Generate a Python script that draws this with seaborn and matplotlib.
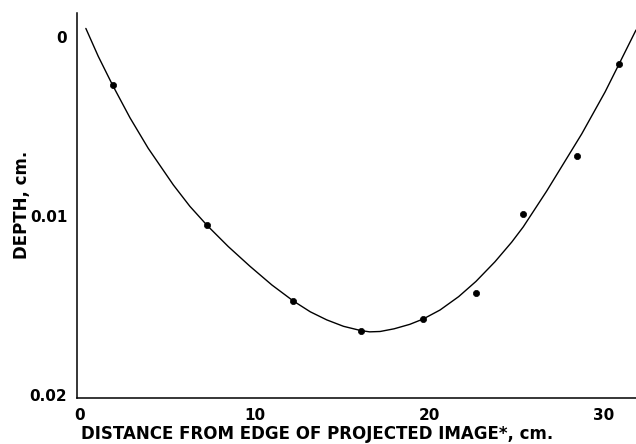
import matplotlib
matplotlib.use("Agg")
import matplotlib.pyplot as plt
import seaborn as sns
import pandas as pd

# Measured points
dist_cm = [1.88, 7.3, 12.2, 16.1, 19.67, 22.7, 25.4, 28.5, 30.9]
depth_cm = [0.00267, 0.01049, 0.01474, 0.01642, 0.01575, 0.01431, 0.00990, 0.00664, 0.00149]

# Smooth fitted curve
curve_x = [0.34, 1.05, 1.87, 2.87, 3.91, 5.35, 6.30, 7.30, 8.50, 9.74, 11.0, 12.22,
           13.2, 14.14, 15.1, 16.1, 16.6, 17.2, 18.0, 18.9, 19.67, 20.63, 21.7,
           22.69, 23.78, 24.74, 25.40, 26.74, 28.75, 30.09, 30.89, 31.86]
curve_y = [-0.00050, 0.00106, 0.00267, 0.00450, 0.00620, 0.00825, 0.00945, 0.01053,
           0.01170, 0.01280, 0.01385, 0.01474, 0.01535, 0.01580, 0.01616, 0.01640,
           0.01647, 0.01645, 0.01630, 0.01605, 0.01575, 0.01525, 0.01450, 0.01365,
           0.01255, 0.01145, 0.01060, 0.00860, 0.00540, 0.00305, 0.00149, -0.00041]

x_ticks = [0, 10, 20, 30]
x_ticklabels = ["0", "10", "20", "30"]
y_ticks = [0, 0.01, 0.02]
y_ticklabels = ["0", "0.01", "0.02"]

sns.set_theme(style="white")
plt.rcParams["font.family"] = ["DejaVu Sans"]

fig = plt.figure(figsize=(6.36, 4.44), dpi=100)
ax = fig.add_axes([0.121, 0.1036, 0.879, 0.867])

pts = pd.DataFrame({"x": dist_cm, "y": depth_cm})
crv = pd.DataFrame({"x": curve_x, "y": curve_y})

sns.lineplot(data=crv, x="x", y="y", sort=False, color="black", linewidth=1.0, ax=ax)
sns.scatterplot(data=pts, x="x", y="y", color="black", s=20, edgecolor="black",
                linewidth=0.5, ax=ax, zorder=3)

ax.set_xlim(-0.17, 31.86)
ax.set_ylim(0.02017, -0.00136)

ax.set_xticks(x_ticks)
ax.set_xticklabels(x_ticklabels)
ax.set_yticks(y_ticks)
ax.set_yticklabels(y_ticklabels)

for s in ["top", "right"]:
    ax.spines[s].set_visible(False)
for s in ["left", "bottom"]:
    ax.spines[s].set_color("black")
    ax.spines[s].set_linewidth(1.1)

ax.tick_params(axis="both", direction="in", length=5, width=0.9, color="black",
               labelsize=11, labelcolor="black")
ax.tick_params(axis="x", pad=7)
ax.tick_params(axis="y", pad=7)
for lab in ax.get_xticklabels() + ax.get_yticklabels():
    lab.set_fontweight("bold")

ax.set_xlabel("DISTANCE FROM EDGE OF PROJECTED IMAGE*, cm.", fontsize=12,
              fontweight="bold", color="black")
ax.set_ylabel("DEPTH, cm.", fontsize=12, fontweight="bold", color="black")
ax.xaxis.set_label_coords((317.5 - 77) / (636 - 77), -(434 - 398) / (398 - 13))
ax.yaxis.set_label_coords(-(77 - 22) / (636 - 77), (398 - 205) / (398 - 13))
ax.xaxis.label.set_va("center")
ax.yaxis.label.set_va("center")
ax.grid(False)

fig.savefig("out.png", dpi=100, facecolor="white")
